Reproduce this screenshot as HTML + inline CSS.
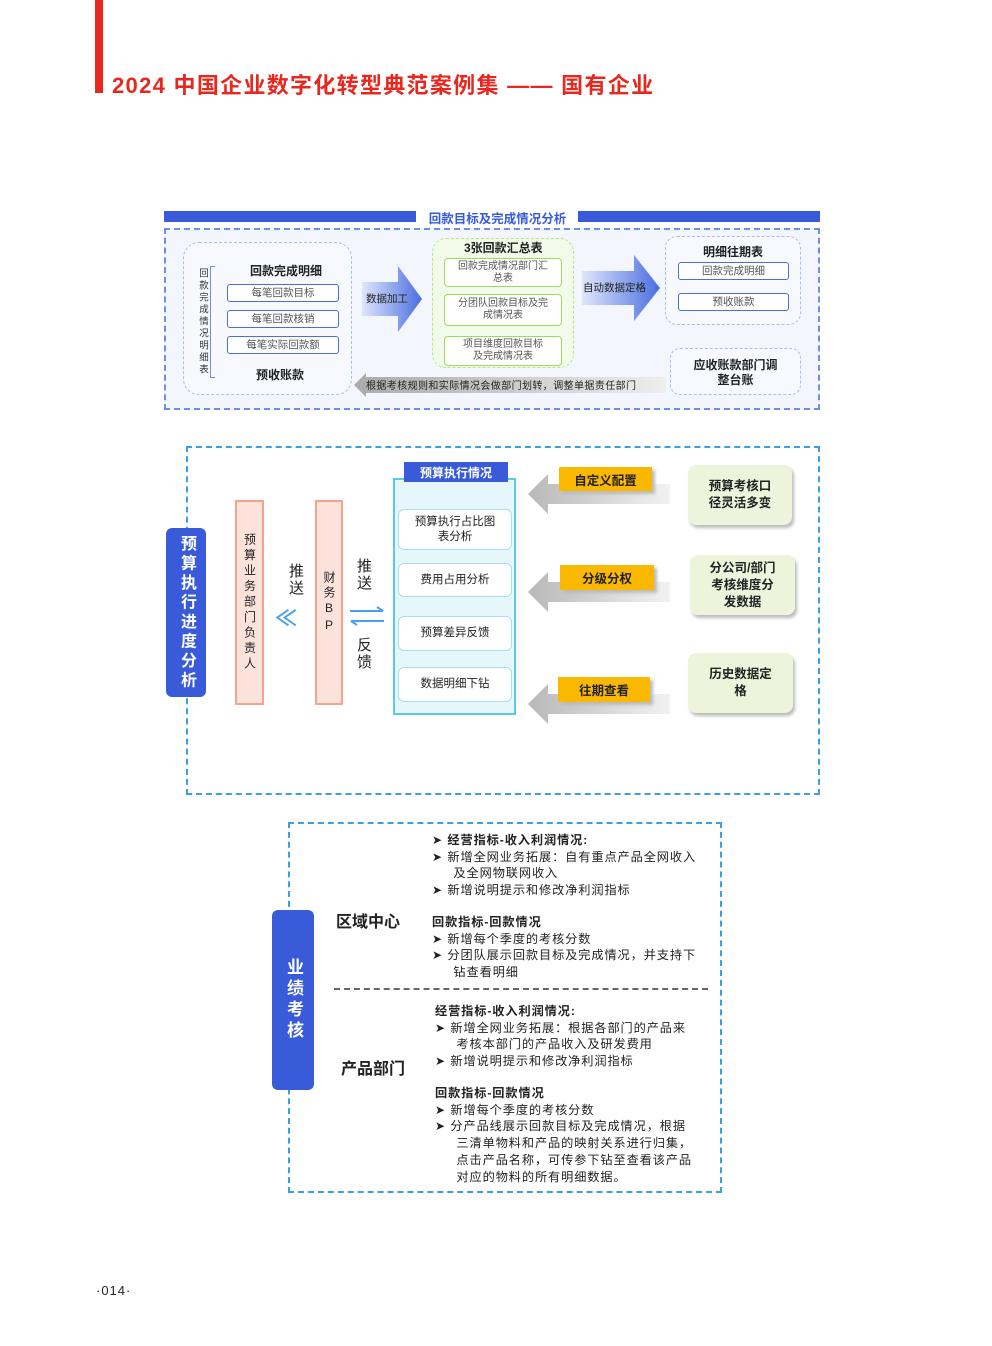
<!DOCTYPE html>
<html><head><meta charset="utf-8"><style>
*{margin:0;padding:0;box-sizing:border-box}
body{width:992px;height:1346px;position:relative;background:#fff;font-family:"Liberation Sans","Noto Sans CJK SC",sans-serif;overflow:hidden;color:#222}
.a{position:absolute}
.c{display:flex;align-items:center;justify-content:center;text-align:center}
.sb{border:1.5px solid #4a6ee0;background:#fff;border-radius:3px;font-size:10.5px;color:#555;line-height:13px}
.gb{border:1.5px solid #9ddc5a;background:#fff;border-radius:4px;font-size:10px;color:#555;line-height:12px}
.item{border:1.5px solid #a9def0;background:#fff;border-radius:6px;font-size:11.5px;color:#222;line-height:15px}
.org{background:#fbb800;font-size:12.5px;font-weight:bold;color:#222;box-shadow:3px 3px 3px #bbb}
.grn{background:#eef4dc;border-radius:8px;font-size:12.5px;font-weight:bold;color:#222;line-height:17px;box-shadow:2px 3px 3px #bbb}
.pink{background:#fbe3dc;border:2px solid #f4a48a}
.vt{writing-mode:vertical-rl;text-orientation:upright}
.t{font-size:12.2px;line-height:16.7px;color:#222;white-space:nowrap;letter-spacing:0.9px}
</style></head><body>
<div class="a" style="left:95px;top:0;width:8px;height:93px;background:#e8271f"></div>
<div class="a" style="left:112px;top:68px;font-size:22px;font-weight:bold;color:#e8271f;white-space:nowrap;letter-spacing:1.3px">2024 中国企业数字化转型典范案例集 —— 国有企业</div>

<!-- section1 -->
<div class="a" style="left:164px;top:211px;width:252px;height:11px;background:#3a5bd9"></div>
<div class="a" style="left:578px;top:211px;width:242px;height:11px;background:#3a5bd9"></div>
<div class="a" style="left:420px;top:208px;width:155px;font-size:12.5px;font-weight:bold;color:#3a5bd9;text-align:center">回款目标及完成情况分析</div>
<div class="a" style="left:164px;top:228px;width:656px;height:182px;border:2px dashed #6f8ee8;background:#f3f6fd"></div>
<div class="a" style="left:183px;top:242px;width:169px;height:153px;border:1.5px dashed #a9bdf0;border-radius:16px;background:#f7f9fe"></div>
<div class="a vt" style="left:196px;top:268px;font-size:9.5px;line-height:13px;color:#333;letter-spacing:2.5px">回款完成情况明细表</div>
<div class="a" style="left:210px;top:266px;width:5px;height:112px;border:1px solid #6f8ee8;border-right:none"></div>
<div class="a" style="left:250px;top:262px;font-size:12px;font-weight:bold">回款完成明细</div>
<div class="a sb c" style="left:227px;top:284px;width:112px;height:18px">每笔回款目标</div>
<div class="a sb c" style="left:227px;top:310px;width:112px;height:18px">每笔回款核销</div>
<div class="a sb c" style="left:227px;top:336px;width:112px;height:18px">每笔实际回款额</div>
<div class="a" style="left:256px;top:366px;font-size:12px;font-weight:bold">预收账款</div>
<svg class="a" style="left:362px;top:266px" width="60" height="66"><defs><linearGradient id="g1" x1="0" x2="1"><stop offset="0" stop-color="#dfe6fb"/><stop offset="1" stop-color="#4a6ee0"/></linearGradient></defs><polygon points="0,16 36,16 36,0 60,33 36,66 36,50 0,50" fill="url(#g1)"/></svg>
<div class="a" style="left:366px;top:291px;font-size:10.5px;color:#222">数据加工</div>
<div class="a" style="left:432px;top:238px;width:142px;height:130px;border:1.5px dashed #b4e880;border-radius:14px;background:#f2fbe9"></div>
<div class="a" style="left:464px;top:239px;font-size:12px;font-weight:bold">3张回款汇总表</div>
<div class="a gb c" style="left:444px;top:258px;width:118px;height:29px">回款完成情况部门汇<br>总表</div>
<div class="a gb c" style="left:444px;top:294px;width:118px;height:32px">分团队回款目标及完<br>成情况表</div>
<div class="a gb c" style="left:444px;top:336px;width:118px;height:30px">项目维度回款目标<br>及完成情况表</div>
<svg class="a" style="left:582px;top:255px" width="78" height="66"><polygon points="0,16 52,16 52,0 78,33 52,66 52,50 0,50" fill="url(#g1)"/></svg>
<div class="a" style="left:583px;top:280px;font-size:10.5px;color:#222">自动数据定格</div>
<div class="a" style="left:665px;top:236px;width:136px;height:89px;border:1.5px dashed #a9bdf0;border-radius:12px;background:#f7f9fe"></div>
<div class="a" style="left:703px;top:243px;font-size:12px;font-weight:bold">明细往期表</div>
<div class="a sb c" style="left:678px;top:262px;width:111px;height:18px">回款完成明细</div>
<div class="a sb c" style="left:678px;top:293px;width:111px;height:18px">预收账款</div>
<div class="a" style="left:670px;top:348px;width:131px;height:47px;border:1.5px dashed #a9bdf0;border-radius:10px;background:#f7f9fe"></div>
<div class="a" style="left:670px;top:358px;width:131px;font-size:12px;font-weight:bold;line-height:15px;text-align:center">应收账款部门调<br>整台账</div>
<svg class="a" style="left:354px;top:373px" width="312" height="24"><defs><linearGradient id="g2" x1="0" x2="1"><stop offset="0" stop-color="#aaa"/><stop offset="1" stop-color="#eee"/></linearGradient></defs><polygon points="0,12 12,0 12,4 312,4 312,20 12,20 12,24" fill="url(#g2)"/></svg>
<div class="a" style="left:366px;top:377px;font-size:10px;color:#222;white-space:nowrap;letter-spacing:0.4px">根据考核规则和实际情况会做部门划转，调整单据责任部门</div>

<!-- section2 -->
<div class="a" style="left:186px;top:446px;width:634px;height:349px;border:2px dashed #3aa0e0"></div>
<div class="a c" style="left:166px;top:528px;width:40px;height:169px;background:#3a5bd9;border-radius:6px"><div class="vt" style="font-size:16px;font-weight:bold;color:#fff;line-height:18px;letter-spacing:3.5px">预算执行进度分析</div></div>
<div class="a pink c" style="left:235px;top:500px;width:29px;height:205px"><div class="vt" style="font-size:12px;line-height:14px;letter-spacing:3.5px">预算业务部门负责人</div></div>
<div class="a pink c" style="left:315px;top:500px;width:28px;height:205px"><div class="vt" style="font-size:12px;line-height:14px;letter-spacing:3px">财务BP</div></div>
<div class="a vt" style="left:287px;top:563px;font-size:15px;line-height:17px;letter-spacing:2px">推送</div>
<div class="a" style="left:275px;top:601px;font-size:22px;color:#4aa0ef;font-weight:bold">≪</div>
<div class="a vt" style="left:355px;top:558px;font-size:15px;line-height:17px;letter-spacing:2px">推送</div>
<svg class="a" style="left:349px;top:606px" width="36" height="20"><path d="M1 5H34M28 1L34 5" stroke="#4aa0ef" stroke-width="2" fill="none"/><path d="M35 15H2M8 19L2 15" stroke="#4aa0ef" stroke-width="2" fill="none"/></svg>
<div class="a vt" style="left:355px;top:637px;font-size:15px;line-height:17px;letter-spacing:2px">反馈</div>
<div class="a" style="left:393px;top:478px;width:123px;height:237px;background:#e6f7fb;border:2px solid #5bc8e8"></div>
<div class="a c" style="left:404px;top:462px;width:104px;height:20px;background:#3a5bd9;color:#fff;font-size:12px;font-weight:bold">预算执行情况</div>
<div class="a item c" style="left:398px;top:509px;width:114px;height:41px">预算执行占比图<br>表分析</div>
<div class="a item c" style="left:398px;top:563px;width:114px;height:34px">费用占用分析</div>
<div class="a item c" style="left:398px;top:616px;width:114px;height:35px">预算差异反馈</div>
<div class="a item c" style="left:398px;top:667px;width:114px;height:35px">数据明细下钻</div>
<svg class="a" style="left:528px;top:474px" width="142" height="40"><defs><linearGradient id="g3" x1="0" x2="1"><stop offset="0" stop-color="#b8b8b8"/><stop offset="1" stop-color="#f2f2f2"/></linearGradient></defs><polygon points="0,20 20,0 20,10 142,10 142,30 20,30 20,40" fill="url(#g3)"/></svg>
<svg class="a" style="left:528px;top:572px" width="142" height="40"><polygon points="0,20 20,0 20,10 142,10 142,30 20,30 20,40" fill="url(#g3)"/></svg>
<svg class="a" style="left:528px;top:684px" width="142" height="40"><polygon points="0,20 20,0 20,10 142,10 142,30 20,30 20,40" fill="url(#g3)"/></svg>
<div class="a org c" style="left:559px;top:467px;width:93px;height:24px">自定义配置</div>
<div class="a org c" style="left:560px;top:565px;width:94px;height:25px">分级分权</div>
<div class="a org c" style="left:558px;top:677px;width:92px;height:25px">往期查看</div>
<div class="a grn c" style="left:688px;top:465px;width:104px;height:60px">预算考核口<br>径灵活多变</div>
<div class="a grn c" style="left:690px;top:555px;width:105px;height:60px">分公司/部门<br>考核维度分<br>发数据</div>
<div class="a grn c" style="left:688px;top:653px;width:105px;height:60px">历史数据定<br>格</div>

<!-- section3 -->
<div class="a" style="left:288px;top:822px;width:434px;height:371px;border:2px dashed #3aa0e0"></div>
<div class="a c" style="left:272px;top:910px;width:42px;height:180px;background:#3a5bd9;border-radius:6px"><div class="vt" style="font-size:17px;font-weight:bold;color:#fff;line-height:20px;letter-spacing:4px">业绩考核</div></div>
<div class="a" style="left:336px;top:908px;font-size:16px;font-weight:bold">区域中心</div>
<div class="a" style="left:341px;top:1055px;font-size:16px;font-weight:bold">产品部门</div>
<div class="a" style="left:334px;top:988px;width:374px;border-top:2px dashed #666"></div>
<div class="a t" style="left:432px;top:832px">➤ <b>经营指标-收入利润情况:</b><br>➤ 新增全网业务拓展：自有重点产品全网收入<br>&nbsp;&nbsp;&nbsp;&nbsp;&nbsp;及全网物联网收入<br>➤ 新增说明提示和修改净利润指标</div>
<div class="a t" style="left:432px;top:914px"><b>回款指标-回款情况</b><br>➤ 新增每个季度的考核分数<br>➤ 分团队展示回款目标及完成情况，并支持下<br>&nbsp;&nbsp;&nbsp;&nbsp;&nbsp;钻查看明细</div>
<div class="a t" style="left:435px;top:1003px"><b>经营指标-收入利润情况:</b><br>➤ 新增全网业务拓展：根据各部门的产品来<br>&nbsp;&nbsp;&nbsp;&nbsp;&nbsp;考核本部门的产品收入及研发费用<br>➤ 新增说明提示和修改净利润指标</div>
<div class="a t" style="left:435px;top:1085px"><b>回款指标-回款情况</b><br>➤ 新增每个季度的考核分数<br>➤ 分产品线展示回款目标及完成情况，根据<br>&nbsp;&nbsp;&nbsp;&nbsp;&nbsp;三清单物料和产品的映射关系进行归集，<br>&nbsp;&nbsp;&nbsp;&nbsp;&nbsp;点击产品名称，可传参下钻至查看该产品<br>&nbsp;&nbsp;&nbsp;&nbsp;&nbsp;对应的物料的所有明细数据。</div>

<div class="a" style="left:96px;top:1283px;font-size:13px;color:#222;letter-spacing:1px">·014·</div>
</body></html>
